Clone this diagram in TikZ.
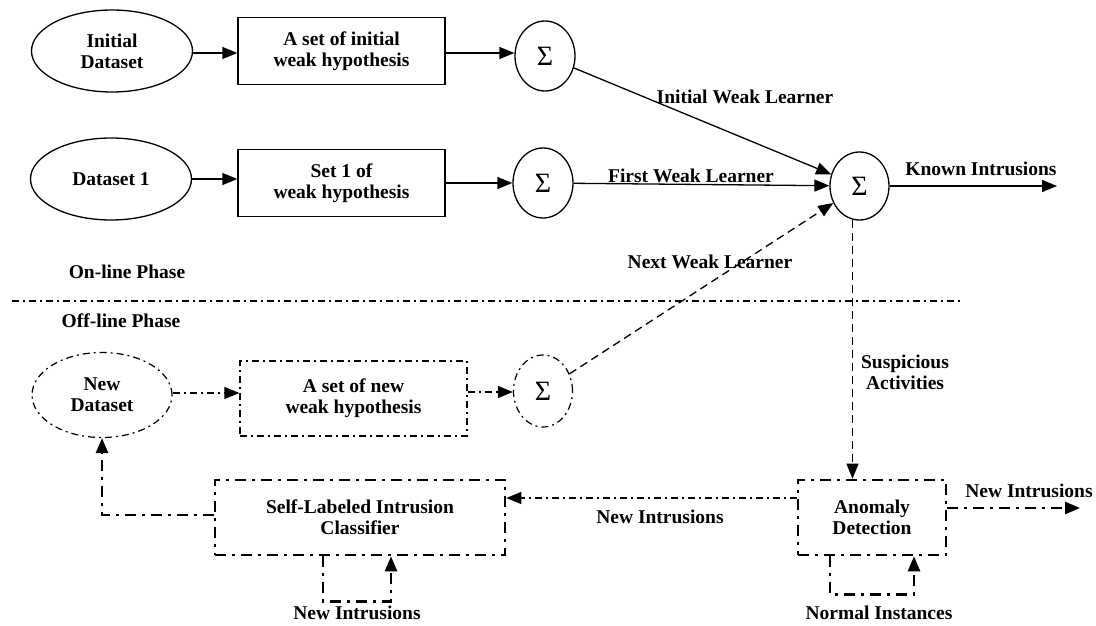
\documentclass[tikz,border=0pt]{standalone}
\usepackage{fontspec}
\setmainfont{Liberation Serif}
\usetikzlibrary{arrows.meta,shapes.geometric,calc}
\begin{document}
\begin{tikzpicture}[x=1pt,y=-1pt,
  every node/.style={font=\fontsize{19.5}{21}\selectfont\bfseries, align=center, inner sep=0pt},
  tip/.style={-{Triangle[length=15pt,width=12pt]}},
  solidln/.style={line width=1.3pt},
  thindd/.style={line width=1.2pt, dash pattern=on 7pt off 4pt on 2pt off 4pt},
  thickdd/.style={line width=2.6pt, dash pattern=on 11pt off 6pt on 3pt off 6pt},
  dashln/.style={line width=1.3pt, dash pattern=on 8pt off 5pt},
  ell/.style={ellipse, minimum width=161pt, minimum height=82pt},
  hbox/.style={rectangle, minimum width=207pt, minimum height=67pt},
  sig/.style={ellipse, minimum width=60pt, minimum height=70pt, font=\fontsize{28}{28}\selectfont\mdseries},
  lbl/.style={}
]
\useasboundingbox (0,0) rectangle (1096,626);

% on-line phase
\node[ell, draw, solidln] (ds0) at (112,51) {Initial\\Dataset};
\node[hbox, draw, solidln] (h0) at (341.5,51) {A set of initial\\weak hypothesis};
\node[sig, draw, solidln] (s0) at (545,56) {Σ};

\node[ell, draw, solidln] (ds1) at (111,179) {Dataset 1};
\node[hbox, draw, solidln] (h1) at (341.5,183) {Set 1 of\\weak hypothesis};
\node[sig, draw, solidln] (s1) at (543,183) {Σ};

\node[sig, draw, solidln, minimum width=59pt, minimum height=68pt] (S) at (859.5,186) {Σ};
\coordinate (known) at (1057,186);

\draw[solidln, tip] (ds0.east |- 0,53) -- (h0.west |- 0,53);
\draw[solidln, tip] (h0.east |- 0,53) -- (s0.west |- 0,53);
\draw[solidln, tip] (ds1.east |- 0,179) -- (h1.west |- 0,179);
\draw[solidln, tip] (h1.east |- 0,183) -- (s1.west |- 0,183);
\draw[solidln, tip] (s0) -- (S);
\draw[solidln, tip] (s1) -- (S);
\draw[solidln, tip] (S) -- (known);

\node[lbl] (lIWL) at (745,97) {Initial Weak Learner};
\node[lbl] (lFWL) at (691,176) {First Weak Learner};
\node[lbl] (lKI) at (981,169) {Known Intrusions};
\node[lbl] (lNWL) at (710,262) {Next Weak Learner};

% phases
\node[lbl] (lOn) at (127,272) {On-line Phase};
\node[lbl] (lOff) at (121,321) {Off-line Phase};
\coordinate (sepL) at (12,301);
\coordinate (sepR) at (960,301);
\draw[thindd] (sepL) -- (sepR);

% off-line phase
\node[ellipse, draw, thindd, minimum width=140pt, minimum height=85pt] (nd) at (102,395) {New\\Dataset};
\node[hbox, draw, thindd, minimum width=227pt, minimum height=75pt] (nh) at (353.5,398.5) {A set of new\\weak hypothesis};
\node[sig, draw, thindd, minimum width=59pt, minimum height=72pt] (s2) at (543,391) {Σ};

\draw[thindd, tip] (nd.east |- 0,393) -- (nh.west |- 0,393);
\draw[thindd, tip] (nh.east |- 0,392) -- (s2.west |- 0,392);
\draw[dashln, tip] (s2) -- (S);

\node[rectangle, draw, thickdd, minimum width=290pt, minimum height=75pt] (sl) at (360,517.5) {Self-Labeled Intrusion\\Classifier};
\node[rectangle, draw, thickdd, minimum width=148pt, minimum height=75pt] (ad) at (872,517.5) {Anomaly\\Detection};

% suspicious
\coordinate (Sb) at ($(S.south)+(-7,-1)$);
\draw[dashln, tip] (Sb) -- (Sb |- ad.north);
\node[lbl] (lSA) at (905,372) {Suspicious\\Activities};

% anomaly -> classifier
\draw[thindd, tip] ([yshift=19.5]ad.west) -- ([yshift=19.5]sl.east);
\node[lbl] (lNI1) at (660,517) {New Intrusions};

% anomaly -> new intrusions
\coordinate (newout) at (1080,508);
\draw[thickdd, tip] (ad.east |- newout) -- (newout);
\node[lbl] (lNI2) at (1029,491) {New Intrusions};

% classifier -> new dataset
\draw[thickdd, tip] ([yshift=2.5]sl.west) -| (nd.south);

% loops
\draw[thickdd, tip] ([xshift=-37]sl.south) -- ++(0,45) -| ([xshift=31]sl.south);
\node[lbl] (lNI3) at (357,613) {New Intrusions};
\draw[thickdd, tip] ([xshift=-42]ad.south) -- ++(0,38) -| ([xshift=42]ad.south);
\node[lbl] (lNInst) at (879,613) {Normal Instances};
\end{tikzpicture}
\end{document}
